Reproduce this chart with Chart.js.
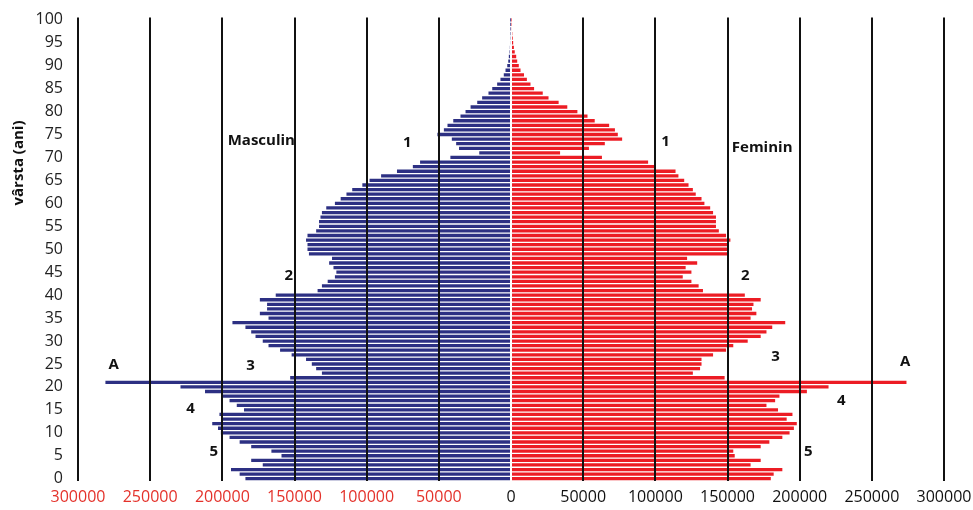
<!DOCTYPE html>
<html>
<head>
<meta charset="utf-8">
<script src="https://cdn.jsdelivr.net/npm/chart.js@4.4.1/dist/chart.umd.min.js"></script>
<style>
  html, body { margin: 0; padding: 0; background: #fff; }
</style>
</head>
<body>
<canvas id="pyramid" width="973" height="510"></canvas>
<script>
// varsta 0..100
const ages = [];
for (let a = 0; a <= 100; a++) ages.push(String(a));

// populatie (mii persoane), index = varsta
const masculin = [
  184, 188, 194, 172, 180, 159, 166, 180, 188, 195,
  201, 203, 207, 200, 202, 185, 190, 195, 200, 212,
  229, 281, 153, 131, 135, 138, 142, 152, 160, 168,
  172, 177, 180, 184, 193, 168, 174, 169, 169, 174,
  163, 134, 131, 127, 122, 121, 123, 126, 124, 140,
  141, 141, 142, 141, 135, 133, 133, 132, 131, 128,
  122, 118, 114, 110, 103, 98, 90, 79, 68, 63,
  42, 22, 36, 38, 41, 51, 46.5, 44, 40, 35,
  31.5, 28, 23.4, 20, 15.6, 13, 9.6, 7.3, 5, 3.8,
  2.6, 1.9, 1.5, 1.0, 0.8, 0.6, 0.5, 0.4, 0.3, 0.2,
  0.15
];
const feminin = [
  180, 182, 188, 166, 173, 155, 154, 173, 179, 188,
  193, 196, 198, 191, 195, 185, 177, 183, 186, 205,
  220, 274, 148, 126, 131, 132, 132, 140, 149, 154,
  164, 173, 177, 181, 190, 166, 170, 167, 168, 173,
  162, 133, 130, 125, 119, 125, 121, 129, 122, 150,
  150, 151, 152, 149, 144, 142, 142, 142, 140, 138,
  134, 132, 128, 126, 123, 120, 116, 114, 100, 95,
  63, 34, 54, 65, 77, 74, 72, 68, 58, 53,
  46, 39, 33, 26, 22, 16, 13.5, 11, 9, 6.6,
  5.4, 4.3, 3.6, 2.6, 2, 1.5, 1.2, 0.9, 0.6, 0.4,
  0.3
];

// x ticks, step 50000
const xTicks = [-300000, -250000, -200000, -150000, -100000, -50000, 0,
  50000, 100000, 150000, 200000, 250000, 300000];

// note pe grafic: text, valoare x, varsta
const noteText = ['Masculin', '1', 'Feminin', '1', '2', '2', 'A', '3', '3', 'A', '4', '4', '5', '5'];
const noteX = [-173000, -71800, 174000, 107000, -154000, 162400, -275300, -180400, 183200, 273100, -222000, 228900, -206000, 206000];
const noteAge = [73.6, 73.3, 72.2, 73.5, 44.3, 44.3, 24.8, 24.6, 26.5, 25.4, 15.2, 17, 5.9, 5.9];

const BLUE = '#2d3083';
const RED = '#ec1c24';
const TICK_RED = '#e4322b';

const notesPlugin = {
  id: 'notes',
  afterDraw(chart) {
    const ctx = chart.ctx;
    const xs = chart.scales.x, ys = chart.scales.y;
    ctx.save();
    ctx.fillStyle = '#111';
    ctx.font = 'bold 15px "Open Sans"';
    ctx.textAlign = 'center';
    ctx.textBaseline = 'middle';
    noteText.forEach((t, i) => {
      ctx.fillText(t, xs.getPixelForValue(noteX[i]), ys.getPixelForValue(noteAge[i]));
    });
    // titlu axa y
    ctx.translate(19, 163);
    ctx.rotate(-Math.PI / 2);
    ctx.font = 'bold 15px "Open Sans"';
    ctx.fillText('vârsta (ani)', 0, 0);
    ctx.restore();
  }
};

new Chart(document.getElementById('pyramid'), {
  type: 'bar',
  data: {
    labels: ages,
    datasets: [
      { label: 'Masculin', data: masculin.map(v => -v * 1000), backgroundColor: BLUE },
      { label: 'Feminin', data: feminin.map(v => v * 1000), backgroundColor: RED }
    ]
  },
  options: {
    indexAxis: 'y',
    responsive: false,
    animation: false,
    barPercentage: 0.72,
    categoryPercentage: 1,
    layout: { padding: { top: 17.5, right: 29, left: 0, bottom: 0 } },
    plugins: { legend: { display: false }, tooltip: { enabled: false } },
    scales: {
      x: {
        stacked: true,
        min: -300000,
        max: 300000,
        afterBuildTicks: s => { s.ticks = xTicks.map(v => ({ value: v })); },
        afterFit: s => { s.height = 29; },
        border: { display: false },
        grid: {
          z: 1,
          drawTicks: false,
          lineWidth: 2,
          color: c => (c.tick && c.tick.value === 0) ? 'rgba(0,0,0,0)' : '#111'
        },
        ticks: {
          padding: 0,
          font: { family: 'Open Sans', size: 16, lineHeight: 2 },
          color: c => c.tick.value < 0 ? TICK_RED : '#111',
          callback: v => String(Math.abs(v))
        }
      },
      y: {
        stacked: true,
        reverse: true,
        afterFit: s => { s.width = 78; },
        border: { display: false },
        grid: { display: false, drawTicks: true, tickLength: 12 },
        ticks: {
          autoSkip: false,
          padding: 3,
          font: { family: 'Open Sans', size: 16 },
          color: '#222',
          callback: (v, i) => (i % 5 === 0 ? ages[i] : null)
        }
      }
    }
  },
  plugins: [notesPlugin]
});
</script>
</body>
</html>
